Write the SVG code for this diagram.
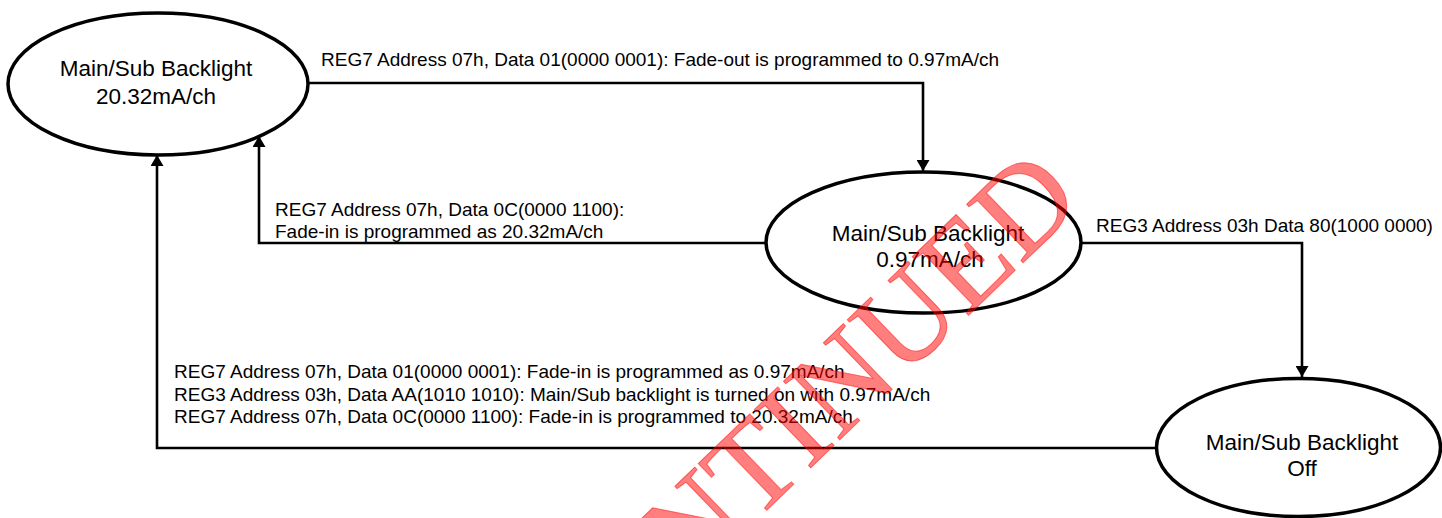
<svg xmlns="http://www.w3.org/2000/svg" width="1442" height="518" viewBox="0 0 1442 518">
<style>
.node{fill:#fff;stroke:#000;stroke-width:3.5}
.ntxt{font-family:"Liberation Sans",Arial,sans-serif;font-size:22.5px;fill:#000;text-anchor:middle}
.lbl{font-family:"Liberation Sans",Arial,sans-serif;font-size:19px;fill:#000}
.conn{fill:none;stroke:#000;stroke-width:2.6}
.wm{font-family:"Liberation Serif","Times New Roman",serif;font-size:124px;fill:#ff0000;fill-opacity:0.5;stroke:#ff0000;stroke-opacity:0.5;stroke-width:1;text-anchor:end}
</style>
<defs>
<marker id="arr" markerUnits="userSpaceOnUse" viewBox="0 0 11 13" markerWidth="11" markerHeight="13" refX="11" refY="6.5" orient="auto">
<path d="M0,0 L11,6.5 L0,13 z" fill="#000"/>
</marker>
</defs>
<rect width="1442" height="518" fill="#fff"/>
<g id="connectors">
<path class="conn" d="M308,83 H923 V171" marker-end="url(#arr)"/>
<path class="conn" d="M765,243 H259 V136" marker-end="url(#arr)"/>
<path class="conn" d="M1082,243 H1302 V377" marker-end="url(#arr)"/>
<path class="conn" d="M1155,448 H157 V155" marker-end="url(#arr)"/>
<text class="lbl" x="321" y="66">REG7 Address 07h, Data 01(0000 0001): Fade-out is programmed to 0.97mA/ch</text>
<text class="lbl" x="275" y="216">REG7 Address 07h, Data 0C(0000 1100):</text>
<text class="lbl" x="275" y="238">Fade-in is programmed as 20.32mA/ch</text>
<text class="lbl" x="1096" y="232">REG3 Address 03h Data 80(1000 0000)</text>
<text class="lbl" x="174" y="378">REG7 Address 07h, Data 01(0000 0001): Fade-in is programmed as 0.97mA/ch</text>
<text class="lbl" x="174" y="401">REG3 Address 03h, Data AA(1010 1010): Main/Sub backlight is turned on with 0.97mA/ch</text>
<text class="lbl" x="174" y="423">REG7 Address 07h, Data 0C(0000 1100): Fade-in is programmed to 20.32mA/ch</text>
</g>
<g id="node-full">
<ellipse class="node" cx="158" cy="84" rx="150" ry="71"/>
<text class="ntxt" x="156" y="76">Main/Sub Backlight</text>
<text class="ntxt" x="156" y="104">20.32mA/ch</text>
</g>
<g id="node-low">
<ellipse class="node" cx="923.5" cy="242.5" rx="157.5" ry="70.5"/>
<text class="ntxt" x="928" y="241">Main/Sub Backlight</text>
<text class="ntxt" x="930" y="267">0.97mA/ch</text>
</g>
<g id="node-off">
<ellipse class="node" cx="1298.5" cy="447.5" rx="142" ry="69"/>
<text class="ntxt" x="1302" y="450">Main/Sub Backlight</text>
<text class="ntxt" x="1302" y="476">Off</text>
</g>
<g id="watermark">
<text class="wm" x="1085" y="203" transform="rotate(-44 1085 203)">DISCONTINUED</text>
</g>
</svg>
